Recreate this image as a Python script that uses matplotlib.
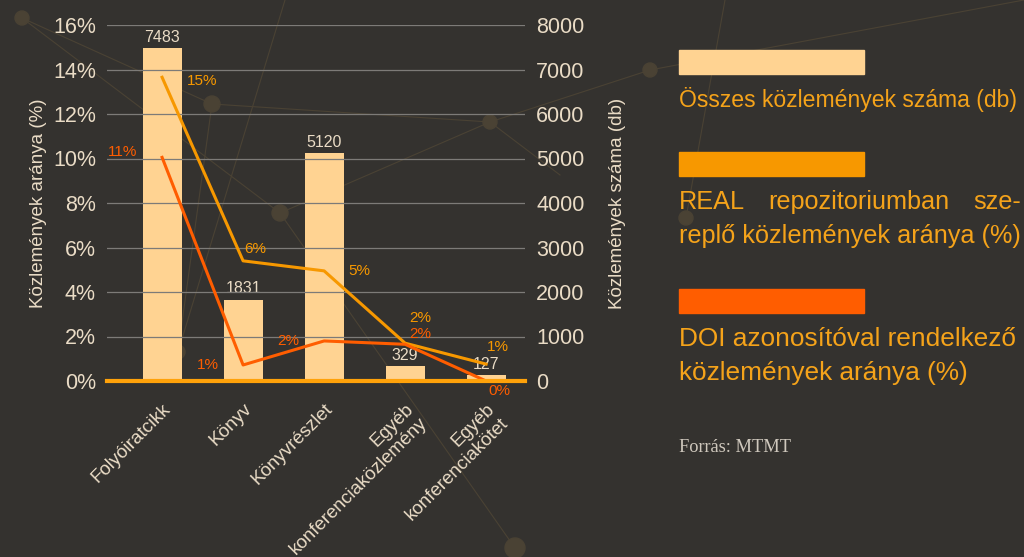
import matplotlib
matplotlib.use("Agg")
import matplotlib.pyplot as plt
from matplotlib.patches import Rectangle, Circle
from matplotlib.lines import Line2D

plt.rcParams['font.family'] = ['Liberation Sans', 'DejaVu Sans']

# data
categories = ['Folyóiratcikk', 'Könyv', 'Könyvrészlet',
              'Egyéb\nkonferenciaközlemény', 'Egyéb\nkonferenciakötet']
total_db = [7483, 1831, 5120, 329, 127]
real_pct = [13.65, 5.4, 4.95, 1.7, 0.76]
doi_pct = [10.05, 0.72, 1.8, 1.65, 0.0]
real_labels = ['15%', '6%', '5%', '2%', '1%']
doi_labels = ['11%', '1%', '2%', '2%', '0%']

BG = '#34322f'
TXT = '#eadcc6'
C_BAR = '#ffd392'
C_REAL = '#f79800'
C_DOI = '#ff5d00'
C_LEG = '#f5a31a'

W, H = 1024, 557
fig = plt.figure(figsize=(W / 100, H / 100), dpi=100, facecolor=BG)

def px(x, y):
    return x / W, 1 - y / H

# faint background network decoration
deco_lines = [((22, 18), (212, 104)), ((212, 104), (490, 122)), ((22, 18), (280, 213)),
              ((280, 213), (490, 122)), ((212, 104), (178, 352)), ((490, 122), (650, 70)),
              ((650, 70), (1024, 0)), ((280, 213), (515, 548)), ((178, 352), (285, 0)),
              ((490, 122), (560, 175)), ((725, 0), (686, 218))]
for (a, b) in deco_lines:
    x0, y0 = px(*a)
    x1, y1 = px(*b)
    fig.add_artist(Line2D([x0, x1], [y0, y1], transform=fig.transFigure,
                          color='#4a4234', lw=0.8, zorder=0))
for (cx, cy, r) in [(22, 18, 7), (212, 104, 8), (280, 213, 8), (178, 352, 7),
                    (490, 122, 7), (650, 70, 7), (515, 548, 10), (686, 218, 7)]:
    fig.add_artist(Circle((cx, H - cy), r, transform=None, color='#4a4234', zorder=0))

ax = fig.add_axes([107 / W, 1 - 381 / H, 418 / W, 356 / H])
ax.set_facecolor('none')
ax2 = ax.twinx()
ax.set_zorder(2)
ax2.set_zorder(1)

x = range(len(categories))

# bars on right axis
ax2.bar(x, total_db, width=0.48, color=C_BAR, zorder=2)
for xi, v in zip(x, total_db):
    ax2.text(xi, v + 70, str(v), ha='center', va='bottom', color=TXT, fontsize=11.5)
ax2.set_ylim(0, 8000)
ax2.set_yticks(range(0, 8001, 1000))

# lines on left axis
ax.plot(x, real_pct, color=C_REAL, lw=2.2, zorder=3)
ax.plot(x, doi_pct, color=C_DOI, lw=2.2, zorder=3)
ax.set_ylim(0, 16)
ax.set_xlim(-0.68, 4.48)
ax.set_yticks(range(0, 17, 2))
ax.set_yticklabels([f'{v}%' for v in range(0, 17, 2)])

# data labels
real_off = [(0.49, -0.18), (0.15, 0.54), (0.44, 0.0), (0.19, 1.12), (0.15, 0.76)]
doi_off = [(-0.49, 0.22), (-0.43, 0.0), (-0.44, 0.0), (0.19, 0.45), (0.16, -0.45)]
for i in x:
    ax.text(i + real_off[i][0], real_pct[i] + real_off[i][1], real_labels[i],
            color=C_REAL, fontsize=11, ha='center', va='center', zorder=4)
    ax.text(i + doi_off[i][0], doi_pct[i] + doi_off[i][1], doi_labels[i],
            color=C_DOI, fontsize=11, ha='center', va='center', zorder=4)

ax.grid(axis='y', color='#7d7b78', lw=0.9)
ax.set_axisbelow(True)
for a in (ax, ax2):
    for s in a.spines.values():
        s.set_visible(False)
    a.tick_params(length=0, colors=TXT, labelsize=15.5, pad=8)
ax.axhline(0, color='#ffa20a', lw=3, zorder=5, clip_on=False)

ax.set_xticks(list(x))
ax.set_xticklabels(categories, rotation=45, ha='right', va='top', rotation_mode='anchor',
                   multialignment='right', fontsize=13.5)
ax.tick_params(axis='x', pad=14)

ax.set_ylabel('Közlemények aránya (%)', color=TXT, fontsize=13.5, labelpad=4)
ax2.set_ylabel('Közlemények száma (db)', color=TXT, fontsize=13.5, labelpad=18)

# legend on the right
LX = 679
renderer = fig.canvas.get_renderer()

def justified(line, y, width, fs):
    words = line.split(' ')
    arts = [fig.text(0, 0, w_, color=C_LEG, fontsize=fs, va='baseline') for w_ in words]
    widths = [t.get_window_extent(renderer).width for t in arts]
    gap = (width - sum(widths)) / (len(words) - 1)
    xpos = LX
    for t, wd in zip(arts, widths):
        t.set_position((xpos / W, 1 - y / H))
        xpos += wd + gap

leg = [(C_BAR, 50, ['Összes közlemények száma (db)'], 16.6, False),
       (C_REAL, 152, ['REAL repozitoriumban sze-', 'replő közlemények aránya (%)'], 18.2, True),
       (C_DOI, 289, ['DOI azonosítóval rendelkező', 'közlemények aránya (%)'], 18.9, False)]
for col, top, lines, fs, just in leg:
    fig.add_artist(Rectangle(px(LX, top + 24), 185 / W, 24 / H,
                             transform=fig.transFigure, color=col))
    base = top + 24 + 33
    for k, line in enumerate(lines):
        y = base + k * 34
        if just and k == 0:
            justified(line, y, 342, fs)
        else:
            fig.text(LX / W, 1 - y / H, line, color=C_LEG, fontsize=fs,
                     ha='left', va='baseline')

fig.text(LX / W, 1 - 447 / H, 'Forrás: MTMT', color='#cfc8bd', fontsize=13.2,
         family=['Liberation Serif', 'DejaVu Serif'], ha='left', va='center')

fig.savefig('out.png', dpi=100, facecolor=BG)
